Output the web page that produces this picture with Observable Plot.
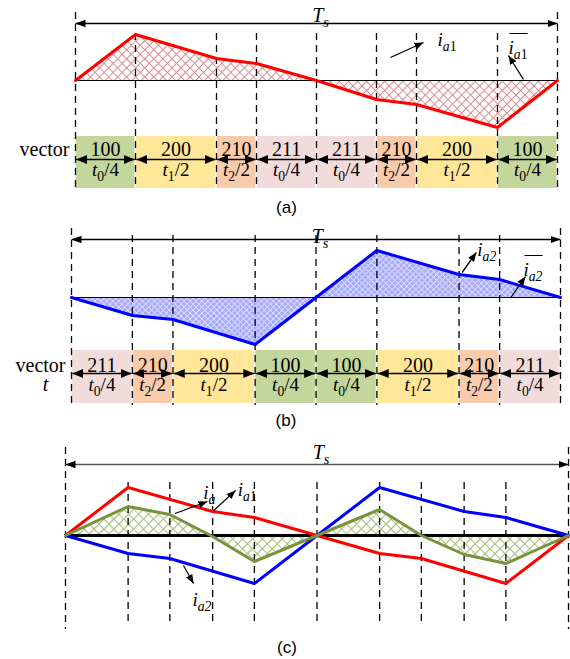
<!DOCTYPE html>
<html><head><meta charset="utf-8">
<script src="https://cdn.jsdelivr.net/npm/d3@7"></script>
<script src="https://cdn.jsdelivr.net/npm/@observablehq/plot@0.6"></script>
<style>
html,body{margin:0;padding:0;background:#fff;}
#root{position:relative;width:570px;height:659px;overflow:hidden;background:#fff;}
#root svg text{font-family:"Liberation Serif","Times New Roman","DejaVu Serif",serif;}
#root svg g.cap text{font-family:"Liberation Sans",Arial,"DejaVu Sans",sans-serif;}
</style></head>
<body><div id="root">
<svg id="defs" width="0" height="0" style="position:absolute;left:0;top:0">
<defs>
<marker id="triTs" viewBox="0 -5 10 10" refX="10" refY="0" markerUnits="userSpaceOnUse" markerWidth="10" markerHeight="10" orient="auto-start-reverse"><path d="M0,-3.8L10,0L0,3.8Z" fill="#000"/></marker>
<marker id="triB" viewBox="0 -6 12 12" refX="11" refY="0" markerUnits="userSpaceOnUse" markerWidth="12" markerHeight="12" orient="auto-start-reverse"><path d="M0,-4.6L11,0L0,4.6Z" fill="#000"/></marker>
<marker id="triN" viewBox="0 -5 10 10" refX="9" refY="0" markerUnits="userSpaceOnUse" markerWidth="10" markerHeight="10" orient="auto-start-reverse"><path d="M0,-3.6L9,0L0,3.6Z" fill="#000"/></marker>
<pattern id="hatchRed" patternUnits="userSpaceOnUse" width="6.4" height="6.4" patternTransform="rotate(45)">
<path d="M0,3.2H6.4M3.2,0V6.4" stroke="#d68c8c" stroke-width="1.1" fill="none"/></pattern>
<pattern id="hatchBlue" patternUnits="userSpaceOnUse" width="4.2" height="4.2" patternTransform="rotate(45)">
<rect width="4.2" height="4.2" fill="#a7abf7"/><path d="M0,2.1H4.2M2.1,0V4.2" stroke="#dcdeff" stroke-width="0.9" fill="none"/></pattern>
<pattern id="hatchGreen" patternUnits="userSpaceOnUse" width="7" height="7" patternTransform="rotate(45)">
<path d="M0,3.5H7M3.5,0V7" stroke="#a8be7e" stroke-width="1.2" fill="none"/></pattern>
</defs></svg>
</div>
<script>
// ---------------- data ----------------
const durLabels = ["t0/4", "t1/2", "t2/2"];
const durValues = [60, 81, 40];               // widths of the dwell times
const vecA  = ["100","200","210","211","211","210","200","100"];
const timeA = ["t0/4","t1/2","t2/2","t0/4","t0/4","t2/2","t1/2","t0/4"];
const vecB  = ["211","210","200","100","100","200","210","211"];
const timeB = ["t0/4","t2/2","t1/2","t0/4","t0/4","t1/2","t2/2","t0/4"];
const vecColors = {"100":"#c3d69b","200":"#ffe699","210":"#f8cbad","211":"#f2dcdb"};

const ia1A = [0, 46, 22, 17, 0, -19, -24, -47, 0];   // panel (a) current at segment boundaries
const ia2B = [0, -18, -22, -47, 0, 47, 23, 18, 0];   // panel (b)
const ia1C = [0, 48, 24, 18, 0, -18, -23, -48, 0];   // panel (c)
const ia2C = [0, -18, -23, -48, 0, 48, 24, 18, 0];
const iaC  = [0, 29, 21, -1, -26, 0, 26, 0, -19, -28, 0]; // at union of boundaries

// annotations (figure units)
const annA = [{x1:315,y1:23,x2:348,y2:38},{x1:448,y1:1,x2:433,y2:25}];
const labA = [{x:362,y:35,text:"ia1"},{x:433,y:27,text:"ia1-bar"}];
const annB = [{x1:385,y1:25,x2:399,y2:45},{x1:433,y1:0,x2:447.5,y2:21}];
const labB = [{x:400,y:42,text:"ia2"},{x:445.5,y:22,text:"ia2-bar"}];
const annC = [{x1:105,y1:22,x2:136,y2:34},{x1:142,y1:25,x2:163,y2:45},{x1:113,y1:-30,x2:122.7,y2:-48}];
const labC = [{x:132,y:37,text:"ia"},{x:165,y:40,text:"ia1"},{x:121.7,y:-70,text:"ia2"}];

// ---------------- layout ----------------
const FONT = "Liberation Serif, Times New Roman, serif";
const SANS = "Liberation Sans, Arial, sans-serif";
const LA = {top:0, height:215, zero:80, ml:75, mr:13, tsY:57, tsLabelY:59, outerTop:68, innerTop:47, bottom:-108,
  blockTop:-56, blockBot:-108, vecY:-75, arrowY:-79, timeY:-95, capY:-132.5};
const LB = {top:215, height:215, zero:82, ml:71, mr:10, tsY:58, tsLabelY:55, outerTop:69, innerTop:62, bottom:-108,
  blockTop:-53, blockBot:-106, vecY:-74.5, arrowY:-76, timeY:-93, capY:-128.5};
const LC = {top:430, height:229, zero:105, ml:65, mr:2, tsY:71, tsLabelY:77, outerTop:88, outerBot:-94,
  innerTop:53, innerBot:-89, capY:-117};

// ---------------- helpers ----------------
function segs(vec, time) {
  let t = 0;
  return vec.map((v, i) => {
    const d = durValues[durLabels.indexOf(time[i])];
    const s = {vec: v, time: time[i], x0: t, x1: t + d};
    t += d; return s;
  });
}
const bounds = sg => [0, ...sg.map(s => s.x1)];
const segA = segs(vecA, timeA), segB = segs(vecB, timeB);
const bA = bounds(segA), bB = bounds(segB);
const TS = bA[bA.length - 1];
const bC = Array.from(new Set([...bA, ...bB])).sort((a, b) => a - b);

const RICH = {
  "t0/4": {parts: [["t","i"],["0","s"],["/4",""]]},
  "t1/2": {parts: [["t","i"],["1","s"],["/2",""]]},
  "t2/2": {parts: [["t","i"],["2","s"],["/2",""]]},
  "Ts":   {parts: [["T","i"],["s","si"]]},
  "t":    {parts: [["t","i"]]},
  "ia":   {parts: [["i","i"],["a","si"]]},
  "ia1":  {parts: [["i","i"],["a","si"],["1","s"]]},
  "ia2":  {parts: [["i","i"],["a2","si"]]},
  "ia1-bar": {parts: [["i","i"],["a","si"],["1","s"]], bar: true},
  "ia2-bar": {parts: [["i","i"],["a2","si"]], bar: true}
};
function richify(svg) {
  d3.select(svg).selectAll("text").each(function() {
    const r = RICH[this.textContent]; if (!r) return;
    const fs = parseFloat(getComputedStyle(this).fontSize) || 16;
    const t = d3.select(this); t.text(null);
    let sub = false;
    for (const [str, st] of r.parts) {
      const isSub = st.startsWith("s");
      const ts = t.append("tspan").text(str);
      if (st.includes("i")) ts.attr("font-style", "italic");
      if (isSub) ts.attr("font-size", (fs * 0.72).toFixed(2));
      if (isSub !== sub) ts.attr("dy", (isSub ? 1 : -1) * fs * 0.28);
      sub = isSub;
    }
    if (r.bar) {
      const b = this.getBBox();
      const ln = d3.select(this.parentNode).append("line")
        .attr("x1", b.x + 1).attr("x2", b.x + b.width).attr("y1", b.y - 3).attr("y2", b.y - 3)
        .attr("stroke", "#000").attr("stroke-width", 1);
      if (this.getAttribute("transform")) ln.attr("transform", this.getAttribute("transform"));
    }
  });
}
function build(o, marks) {
  const svg = Plot.plot({
    width: 570, height: o.height, marginLeft: o.ml, marginRight: o.mr, marginTop: 0, marginBottom: 0,
    x: {domain: [0, TS], axis: null},
    y: {domain: [o.zero - o.height, o.zero], axis: null},
    color: {type: "identity"},
    style: {background: "transparent", overflow: "visible"},
    marks
  });
  const wrap = document.createElement("div");
  wrap.style.cssText = `position:absolute;left:0;top:${o.top}px;width:570px;height:${o.height}px;`;
  wrap.appendChild(svg);
  document.getElementById("root").appendChild(wrap);
  const s = d3.select(svg);
  s.selectAll("g.dbl path").attr("marker-start", "url(#triTs)").attr("marker-end", "url(#triTs)");
  s.selectAll("g.dblB path").attr("marker-start", "url(#triB)").attr("marker-end", "url(#triB)");
  s.selectAll("g.ann path").attr("marker-end", "url(#triN)");
  richify(svg);
}
const mid = d => (d.x0 + d.x1) / 2;

function blockMarks(L, sg) {
  return [
    Plot.link(sg, {x1: d => d.x0 + 0.8, x2: d => d.x1 - 0.8, y1: () => L.arrowY, y2: () => L.arrowY,
      stroke: "#000", strokeWidth: 1.6, className: "dblB"}),
    Plot.text(sg, {x: mid, y: () => L.vecY, text: "vec", fontFamily: FONT, fontSize: 20, lineAnchor: "bottom"}),
    Plot.text(sg, {x: mid, y: () => L.timeY, text: "time", fontFamily: FONT, fontSize: 19, lineAnchor: "bottom"}),
    Plot.text(["vector"], {x: () => 0, y: () => L.vecY, text: d => d, textAnchor: "end", dx: -6,
      fontFamily: FONT, fontSize: 20, lineAnchor: "bottom"})
  ];
}
const capText = (L, label) => Plot.text([label], {x: () => TS / 2, y: () => L.capY, text: d => d, dx: -30,
  fontFamily: SANS, fontSize: 17, lineAnchor: "bottom", className: "cap"});

// ---------------- panel (a) ----------------
const ptsA = bA.map((t, i) => ({t, v: ia1A[i]}));
build(LA, [
  Plot.rect(segA, {x1: "x0", x2: "x1", y1: () => LA.blockTop, y2: () => LA.blockBot,
    fill: d => vecColors[d.vec], insetLeft: 0.6, insetRight: 0.6}),
  Plot.areaY(ptsA, {x: "t", y: "v", fill: "url(#hatchRed)"}),
  Plot.ruleY([0], {stroke: "#000", strokeWidth: 1.2}),
  Plot.ruleX(bA, {x: d => d, y1: (d, i) => (i === 0 || i === bA.length - 1) ? LA.outerTop : LA.innerTop,
    y2: () => LA.bottom, stroke: "#000", strokeWidth: 1.3, strokeDasharray: "7,5"}),
  Plot.line(ptsA, {x: "t", y: "v", stroke: "#ff0000", strokeWidth: 3, strokeLinejoin: "miter"}),
  Plot.link([TS], {x1: () => 0, x2: d => d, y1: () => LA.tsY, y2: () => LA.tsY, stroke: "#000", strokeWidth: 1.3, className: "dbl"}),
  Plot.text(["Ts"], {x: () => TS / 2, y: () => LA.tsLabelY, text: d => d, dx: 4, fontFamily: FONT, fontSize: 20, lineAnchor: "bottom"}),
  ...blockMarks(LA, segA),
  Plot.link(annA, {x1: "x1", y1: "y1", x2: "x2", y2: "y2", stroke: "#000", strokeWidth: 1.3, className: "ann"}),
  Plot.text(labA, {x: "x", y: "y", text: "text", textAnchor: "start", fontFamily: FONT, fontSize: 19, lineAnchor: "bottom"}),
  capText(LA, "(a)")
]);

// ---------------- panel (b) ----------------
const ptsB = bB.map((t, i) => ({t, v: ia2B[i]}));
build(LB, [
  Plot.rect(segB, {x1: "x0", x2: "x1", y1: () => LB.blockTop, y2: () => LB.blockBot,
    fill: d => vecColors[d.vec], insetLeft: 0.6, insetRight: 0.6}),
  Plot.areaY(ptsB, {x: "t", y: "v", fill: "url(#hatchBlue)"}),
  Plot.ruleY([0], {stroke: "#000", strokeWidth: 1.2}),
  Plot.ruleX(bB, {x: d => d, y1: (d, i) => (i === 0 || i === bB.length - 1) ? LB.outerTop : LB.innerTop,
    y2: () => LB.bottom, stroke: "#000", strokeWidth: 1.3, strokeDasharray: "7,5"}),
  Plot.line(ptsB, {x: "t", y: "v", stroke: "#0000ff", strokeWidth: 3, strokeLinejoin: "miter"}),
  Plot.link([TS], {x1: () => 0, x2: d => d, y1: () => LB.tsY, y2: () => LB.tsY, stroke: "#000", strokeWidth: 1.3, className: "dbl"}),
  Plot.text(["Ts"], {x: () => TS / 2, y: () => LB.tsLabelY, text: d => d, dx: 4, fontFamily: FONT, fontSize: 20, lineAnchor: "bottom"}),
  ...blockMarks(LB, segB),
  Plot.text(["t"], {x: () => 0, y: () => LB.timeY, text: d => d, dx: -26, fontFamily: FONT, fontSize: 20, lineAnchor: "bottom"}),
  Plot.link(annB, {x1: "x1", y1: "y1", x2: "x2", y2: "y2", stroke: "#000", strokeWidth: 1.3, className: "ann"}),
  Plot.text(labB, {x: "x", y: "y", text: "text", textAnchor: "start", fontFamily: FONT, fontSize: 19, lineAnchor: "bottom"}),
  capText(LB, "(b)")
]);

// ---------------- panel (c) ----------------
const redC = bA.map((t, i) => ({t, v: ia1C[i]}));
const blueC = bB.map((t, i) => ({t, v: ia2C[i]}));
const greenC = bC.map((t, i) => ({t, v: iaC[i]}));
build(LC, [
  Plot.areaY(greenC, {x: "t", y: "v", fill: "url(#hatchGreen)"}),
  Plot.ruleY([0], {stroke: "#000", strokeWidth: 3}),
  Plot.ruleX(bC, {x: d => d,
    y1: (d, i) => (i === 0 || i === bC.length - 1) ? LC.outerTop : LC.innerTop,
    y2: (d, i) => (i === 0 || i === bC.length - 1) ? LC.outerBot : LC.innerBot,
    stroke: "#000", strokeWidth: 1.3, strokeDasharray: "7,5"}),
  Plot.line(redC, {x: "t", y: "v", stroke: "#ff0000", strokeWidth: 3, strokeLinejoin: "miter"}),
  Plot.line(blueC, {x: "t", y: "v", stroke: "#0000ff", strokeWidth: 3, strokeLinejoin: "miter"}),
  Plot.line(greenC, {x: "t", y: "v", stroke: "#77933c", strokeWidth: 3, strokeLinejoin: "miter"}),
  Plot.link([TS], {x1: () => 0, x2: d => d, y1: () => LC.tsY, y2: () => LC.tsY, stroke: "#555", strokeWidth: 1.3, className: "dbl"}),
  Plot.text(["Ts"], {x: () => TS / 2, y: () => LC.tsLabelY, text: d => d, dx: 4, fontFamily: FONT, fontSize: 20, lineAnchor: "bottom"}),
  Plot.link(annC, {x1: "x1", y1: "y1", x2: "x2", y2: "y2", stroke: "#000", strokeWidth: 1.2, className: "ann"}),
  Plot.text(labC, {x: "x", y: "y", text: "text", textAnchor: "start", fontFamily: FONT, fontSize: 19, lineAnchor: "bottom"}),
  capText(LC, "(c)")
]);
</script></body></html>
